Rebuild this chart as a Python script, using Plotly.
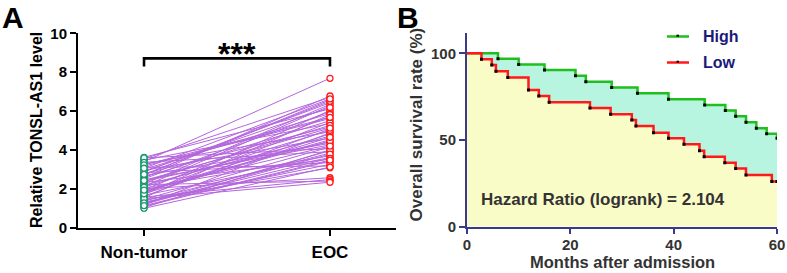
import plotly.graph_objects as go

# ---------------- Panel A data ----------------
groups = ["Non-tumor", "EOC"]
non_tumor = [3.41, 3.63, 3.55, 3.02, 2.88, 3.48, 2.71, 3.30, 2.14, 2.96, 3.18, 2.53, 1.97, 2.40, 3.60,
             2.79, 2.26, 1.84, 3.37, 2.62, 2.05, 1.72, 2.47, 1.63, 2.33, 1.91, 2.84, 1.55, 2.19, 3.12,
             1.47, 2.58, 1.38, 1.79, 2.69, 1.26, 2.01, 1.68, 1.18, 2.37, 1.11, 1.59, 2.92, 1.43, 1.05,
             2.23, 1.33, 3.24, 1.87, 1.22, 2.10, 1.51, 1.01, 2.75, 1.76, 3.07, 1.29, 1.95, 2.44, 1.15]
eoc = [7.69, 6.12, 6.71, 5.88, 6.43, 5.36, 6.58, 4.94, 6.27, 4.61, 5.62, 5.97, 5.74, 4.42, 4.08,
       5.19, 6.35, 4.83, 3.92, 5.51, 3.71, 6.04, 4.27, 5.08, 3.54, 4.53, 3.36, 5.83, 4.72, 3.18,
       4.16, 6.78, 3.85, 5.42, 4.35, 3.97, 2.58, 3.62, 4.89, 5.27, 3.44, 2.49, 6.19, 3.09, 4.01,
       2.41, 3.27, 5.68, 4.47, 3.79, 5.02, 2.35, 3.13, 6.51, 4.66, 6.63, 3.58, 4.21, 5.13, 3.49]
a_yticks = [0, 2, 4, 6, 8, 10]
sig_label = "***"

# ---------------- Panel B data ----------------
high_months = [0, 6, 10, 15, 21, 23, 28, 33, 39, 46, 50, 52, 54, 56, 58, 60]
high_surv = [100, 96.8, 93.6, 90.3, 87.0, 83.6, 80.3, 77.0, 73.5, 70.2, 67.0, 63.7, 60.2, 56.8, 53.6, 51.0]
low_months = [0, 2.8, 4.8, 5.6, 7.9, 11.9, 13.9, 15.9, 23.8, 27.8, 31.9, 32.7, 36.1, 39, 42, 45, 45.9,
              49.9, 52, 54, 59, 60]
low_surv = [100, 96.5, 93.2, 89.6, 86.0, 78.8, 75.4, 71.8, 68.4, 64.9, 61.5, 58.0, 54.2, 51.0, 47.5,
            43.8, 40.4, 36.9, 33.6, 29.8, 26.0, 26.0]
b_xticks = [0, 20, 40, 60]
b_yticks = [0, 50, 100]
hazard_text = "Hazard Ratio (logrank) = 2.104"

W, H = 787, 273
FONT = "Arial, 'Liberation Sans', sans-serif"
NAVY = "#3a3a8c"
GREEN = "#1fbf1f"
RED = "#ff1a1a"
PURPLE = "#b466dc"


def px(x):
    return x / W


def py(y):
    return 1 - y / H


fig = go.Figure()

# Panel A: paired lines
for a, b in zip(non_tumor, eoc):
    fig.add_trace(go.Scatter(x=[0, 1], y=[a, b], mode="lines",
                             line=dict(color=PURPLE, width=1), xaxis="x", yaxis="y",
                             showlegend=False, hoverinfo="skip"))
fig.add_trace(go.Scatter(x=[0] * len(non_tumor), y=non_tumor, mode="markers",
                         marker=dict(symbol="circle", size=6, color="white",
                                     line=dict(width=1.3, color="#1a9a6c")),
                         xaxis="x", yaxis="y", showlegend=False))
fig.add_trace(go.Scatter(x=[1] * len(eoc), y=eoc, mode="markers",
                         marker=dict(symbol="circle", size=6, color="white",
                                     line=dict(width=1.3, color=RED)),
                         xaxis="x", yaxis="y", showlegend=False))

# Panel B: fills
fig.add_trace(go.Scatter(x=low_months, y=low_surv, mode="lines", line=dict(width=0, shape="hv"),
                         fill="tozeroy", fillcolor="#fafcc8", xaxis="x2", yaxis="y2",
                         showlegend=False, hoverinfo="skip"))
fig.add_trace(go.Scatter(x=high_months, y=high_surv, mode="lines", line=dict(width=0, shape="hv"),
                         fill="tonexty", fillcolor="#b8f5e0", xaxis="x2", yaxis="y2",
                         showlegend=False, hoverinfo="skip"))
# Panel B: curves and step marks
fig.add_trace(go.Scatter(x=high_months, y=high_surv, mode="lines", line=dict(width=2.5, color=GREEN, shape="hv"),
                         xaxis="x2", yaxis="y2", showlegend=False))
fig.add_trace(go.Scatter(x=low_months, y=low_surv, mode="lines", line=dict(width=2.5, color=RED, shape="hv"),
                         xaxis="x2", yaxis="y2", showlegend=False))
fig.add_trace(go.Scatter(x=high_months[1:], y=high_surv[1:], mode="markers",
                         marker=dict(symbol="square", size=3, color="black"),
                         xaxis="x2", yaxis="y2", showlegend=False))
fig.add_trace(go.Scatter(x=low_months[1:], y=low_surv[1:], mode="markers",
                         marker=dict(symbol="square", size=3, color="black"),
                         xaxis="x2", yaxis="y2", showlegend=False))

tickfont_a = dict(family=FONT, size=15, color="black", weight=700)
tickfont_b = dict(family=FONT, size=15, color="#333333", weight=700)

fig.update_layout(
    width=W, height=H, margin=dict(l=0, r=0, t=0, b=0, autoexpand=False),
    paper_bgcolor="white", plot_bgcolor="rgba(0,0,0,0)",
    showlegend=False,
    xaxis=dict(domain=[px(78), px(396)], range=[-0.355, 1.355], tickvals=[0, 1], ticktext=groups,
               showline=True, linecolor="black", linewidth=2, ticks="outside", ticklen=6, tickwidth=2,
               tickcolor="black", showgrid=False, zeroline=False, automargin=False, ticklabelstandoff=2,
               tickfont=dict(family=FONT, size=17, color="black", weight=700), anchor="y"),
    yaxis=dict(domain=[py(228), py(33.3)], range=[0, 10], tickvals=a_yticks, automargin=False,
               showline=True, linecolor="black", linewidth=2, ticks="outside", ticklen=6, tickwidth=2,
               tickcolor="black", showgrid=False, zeroline=False, tickfont=tickfont_a, anchor="x"),
    xaxis2=dict(domain=[px(467), px(777)], range=[0, 60], tickvals=b_xticks, automargin=False,
                showline=True, linecolor=NAVY, linewidth=2, ticks="outside", ticklen=5, tickwidth=2,
                ticklabelstandoff=-2,
                tickcolor=NAVY, showgrid=False, zeroline=False, tickfont=tickfont_b, anchor="y2"),
    yaxis2=dict(domain=[py(226.7), py(33)], range=[0, 111.7], tickvals=b_yticks, automargin=False,
                showline=True, linecolor=NAVY, linewidth=2, ticks="outside", ticklen=6, tickwidth=2,
                tickcolor=NAVY, showgrid=False, zeroline=False, tickfont=tickfont_b, anchor="x2"),
)

# significance bracket
fig.add_shape(type="path", path="M 0,8.29 L 0,8.71 L 1,8.71 L 1,8.29", xref="x", yref="y",
              line=dict(color="black", width=2.6))

ann = []
ann.append(dict(x=0.5, y=8.71, xref="x", yref="y", text=sig_label, showarrow=False,
                xanchor="center", yanchor="bottom", yshift=-16,
                font=dict(family=FONT, size=32, color="black", weight=700)))
ann.append(dict(x=px(36), y=py(130), xref="paper", yref="paper", text="Relative TONSL-AS1 level",
                xanchor="center", yanchor="middle",
                textangle=-90, showarrow=False, font=dict(family=FONT, size=16, color="black", weight=700)))
ann.append(dict(x=px(416), y=py(124.5), xref="paper", yref="paper", text="Overall survival rate (%)",
                xanchor="center", yanchor="middle",
                textangle=-90, showarrow=False, font=dict(family=FONT, size=17, color="#333333", weight=700)))
ann.append(dict(x=px(622), y=py(262), xref="paper", yref="paper", text="Months after admission",
                xanchor="center", yanchor="middle",
                showarrow=False, font=dict(family=FONT, size=16.5, color="#333333", weight=700)))
ann.append(dict(x=px(603), y=py(199.5), xref="paper", yref="paper", text=hazard_text,
                xanchor="center", yanchor="middle",
                showarrow=False, font=dict(family=FONT, size=17, color="#333333", weight=700)))
ann.append(dict(x=px(12.5), y=py(17.5), xref="paper", yref="paper", text="A", xanchor="center", yanchor="middle",
                showarrow=False, font=dict(family=FONT, size=30, color="black", weight=700)))
ann.append(dict(x=px(408), y=py(17.5), xref="paper", yref="paper", text="B", xanchor="center", yanchor="middle",
                showarrow=False, font=dict(family=FONT, size=30, color="black", weight=700)))

# legend (manual)
for label, color, yy in [("High", GREEN, 36.5), ("Low", RED, 62.5)]:
    fig.add_shape(type="line", x0=px(667), x1=px(689), y0=py(yy), y1=py(yy), xref="paper", yref="paper",
                  line=dict(color=color, width=2.5))
    fig.add_shape(type="rect", x0=px(676.5), x1=px(679), y0=py(yy - 1.8), y1=py(yy + 0.2),
                  xref="paper", yref="paper", line=dict(width=0), fillcolor="black")
    ann.append(dict(x=px(701), y=py(yy), xref="paper", yref="paper", text=label,
                    xanchor="left", yanchor="middle",
                    showarrow=False, font=dict(family=FONT, size=16, color="#1a1a7a", weight=700)))

fig.update_layout(annotations=ann)

fig.write_html("out.html", config={"displayModeBar": False},
               post_script="document.body.style.margin='0';document.body.style.overflow='hidden';")
